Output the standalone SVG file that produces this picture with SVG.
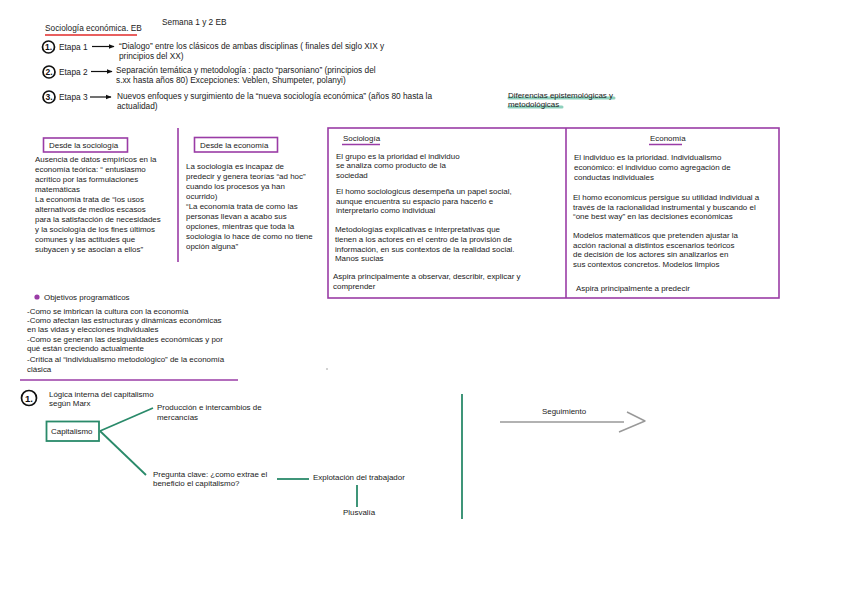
<svg xmlns="http://www.w3.org/2000/svg" width="848" height="599" viewBox="0 0 848 599">
<defs>
<style>
text{font-family:"Liberation Sans","DejaVu Sans",sans-serif;font-size:7.95px;fill:#1a1a1a}
.h{font-size:8.3px}
.num{font-size:8.5px;font-weight:bold;fill:#111}
.circ{fill:#fff;stroke:#111;stroke-width:1.7}
.pbox{fill:#fff;stroke:#9a3ca6;stroke-width:1.6}
.pl{stroke:#9a3ca6;stroke-width:1.6;fill:none}
.tl{stroke:#2a8a6a;stroke-width:1.8;fill:none}
.arr{stroke:#111;stroke-width:1.2;fill:none;marker-end:url(#ah)}
</style>
<marker id="ah" viewBox="0 0 10 10" refX="9" refY="5" markerWidth="5" markerHeight="5" orient="auto">
<path d="M0,1 L10,5 L0,9 z" fill="#111"/>
</marker>
</defs>

<g id="header">
<text x="45" y="31" class="h">Sociología económica. EB</text>
<line x1="45" y1="35" x2="137" y2="35" stroke="#e02a2a" stroke-width="1.6"/>
<text x="162" y="25" class="h">Semana 1 y 2 EB</text>
</g>

<g id="etapa1">
<circle cx="48.5" cy="47" r="6" class="circ"/>
<text x="45" y="50.2" class="num">1.</text>
<text x="59" y="50" class="h">Etapa 1</text>
<line x1="92" y1="46.5" x2="114" y2="46.5" class="arr"/>
<text x="119" y="49" class="h">“Dialogo” entre los clásicos de ambas disciplinas ( finales del siglo XIX y</text>
<text x="119" y="59" class="h">principios del XX)</text>
</g>
<g id="etapa2">
<circle cx="49" cy="72" r="6" class="circ"/>
<text x="45.5" y="75.2" class="num">2.</text>
<text x="59" y="75" class="h">Etapa 2</text>
<line x1="91" y1="71.5" x2="112" y2="71.5" class="arr"/>
<text x="116" y="73" class="h">Separación temática y metodología : pacto “parsoniano” (principios del</text>
<text x="116" y="83" class="h">s.xx hasta años 80) Excepciones: Veblen, Shumpeter, polanyi)</text>
</g>
<g id="etapa3">
<circle cx="49" cy="97" r="6" class="circ"/>
<text x="45.5" y="100.2" class="num">3.</text>
<text x="59" y="100" class="h">Etapa 3</text>
<line x1="90" y1="97" x2="111" y2="97" class="arr"/>
<text x="117" y="99" class="h">Nuevos enfoques y surgimiento de la “nueva sociología económica” (años 80 hasta la</text>
<text x="117" y="109" class="h">actualidad)</text>
</g>

<g id="diferencias">
<line x1="509" y1="98" x2="614" y2="98" stroke="#7cc9b2" stroke-width="3" stroke-linecap="round" opacity="0.85"/>
<line x1="509" y1="107" x2="562" y2="107" stroke="#7cc9b2" stroke-width="3" stroke-linecap="round" opacity="0.85"/>
<text x="508" y="98">Diferencias epistemológicas y</text>
<text x="508" y="107">metodológicas</text>
</g>

<g id="desde-sociologia">
<rect x="43.5" y="138" width="84" height="14" class="pbox"/>
<text x="49" y="148">Desde la sociología</text>
<text x="35" y="162">Ausencia de datos empíricos en la</text>
<text x="35" y="172">economía teórica: “ entusiasmo</text>
<text x="35" y="182">acrítico por las formulaciones</text>
<text x="35" y="192">matemáticas</text>
<text x="35" y="202">La economía trata de “los usos</text>
<text x="35" y="212">alternativos de medios escasos</text>
<text x="35" y="222">para la satisfacción de necesidades</text>
<text x="35" y="232">y la sociología de los fines últimos</text>
<text x="35" y="242">comunes y las actitudes que</text>
<text x="35" y="252">subyacen y se asocian a ellos”</text>
</g>

<g id="desde-economia">
<line x1="178" y1="128" x2="178" y2="262" class="pl"/>
<rect x="194.5" y="137.5" width="83" height="14.5" class="pbox"/>
<text x="200" y="148">Desde la economía</text>
<text x="186" y="169">La sociología es incapaz de</text>
<text x="186" y="179">predecir y genera teorías “ad hoc”</text>
<text x="186" y="189">cuando los procesos ya han</text>
<text x="186" y="199">ocurrido)</text>
<text x="186" y="209">“La economía trata de como las</text>
<text x="186" y="219">personas llevan a acabo sus</text>
<text x="186" y="229">opciones, mientras que toda la</text>
<text x="186" y="239">sociología lo hace de como no tiene</text>
<text x="186" y="249">opción alguna”</text>
</g>

<g id="tabla">
<rect x="328" y="128" width="451" height="170" class="pl"/>
<line x1="566" y1="128" x2="566" y2="298" class="pl"/>
</g>

<g id="col-sociologia">
<text x="343" y="141">Sociología</text>
<line x1="342" y1="144.5" x2="380" y2="144.5" class="pl"/>
<text x="336" y="159">El grupo es la prioridad el individuo</text>
<text x="336" y="168">se analiza como producto de la</text>
<text x="336" y="178">sociedad</text>
<text x="336" y="194">El homo sociologicus desempeña un papel social,</text>
<text x="336" y="204">aunque encuentra su espacio para hacerlo e</text>
<text x="336" y="213">interpretarlo como individual</text>
<text x="335" y="232">Metodologías explicativas e interpretativas que</text>
<text x="335" y="242">tienen a los actores en el centro de la provisión de</text>
<text x="335" y="252">información, en sus contextos de la realidad social.</text>
<text x="335" y="261">Manos sucias</text>
<text x="333" y="279">Aspira principalmente a observar, describir, explicar y</text>
<text x="333" y="289">comprender</text>
</g>

<g id="col-economia">
<text x="650" y="141">Economía</text>
<line x1="649" y1="144.5" x2="682" y2="144.5" class="pl"/>
<text x="574" y="160">El individuo es la prioridad. Individualismo</text>
<text x="574" y="170">económico: el individuo como agregación de</text>
<text x="574" y="180">conductas individuales</text>
<text x="573" y="200">El homo economicus persigue su utilidad individual a</text>
<text x="573" y="210">través de la racionalidad instrumental y buscando el</text>
<text x="573" y="219">“one best way” en las decisiones económicas</text>
<text x="573" y="238">Modelos matemáticos que pretenden ajustar la</text>
<text x="573" y="248">acción racional a distintos escenarios teóricos</text>
<text x="573" y="257">de decisión de los actores sin analizarlos en</text>
<text x="573" y="267">sus contextos concretos. Modelos limpios</text>
<text x="576" y="291">Aspira principalmente a predecir</text>
</g>

<g id="objetivos">
<circle cx="37" cy="297" r="2.6" fill="#9a3ca6"/>
<text x="44" y="300">Objetivos programáticos</text>
<text x="27" y="314">-Como se imbrican la cultura con la economía</text>
<text x="27" y="323">-Como afectan las estructuras y dinámicas económicas</text>
<text x="27" y="332">en las vidas y elecciones individuales</text>
<text x="27" y="342">-Como se generan las desigualdades económicas y por</text>
<text x="27" y="351">qué están creciendo actualmente</text>
<text x="27" y="362">-Crítica al “individualismo metodológico” de la economía</text>
<text x="27" y="372">clásica</text>
<line x1="20" y1="380" x2="238" y2="380" class="pl"/>
<circle cx="327" cy="369" r="0.8" fill="#999"/>
</g>

<g id="marx">
<circle cx="29" cy="398" r="7.5" class="circ" stroke-width="1.9"/>
<text x="25" y="401.8" class="num" style="font-size:9.5px">1.</text>
<text x="49" y="397">Lógica interna del capitalismo</text>
<text x="49" y="406">según Marx</text>
</g>

<g id="capitalismo">
<rect x="46.5" y="421.5" width="52.5" height="19.5" fill="#fff" stroke="#2a8a6a" stroke-width="1.8"/>
<text x="51" y="434">Capitalismo</text>
</g>

<g id="produccion">
<text x="157" y="410">Producción e intercambios de</text>
<text x="157" y="420">mercancías</text>
</g>

<g id="pregunta">
<text x="153" y="477">Pregunta clave: ¿como extrae el</text>
<text x="153" y="486">beneficio el capitalismo?</text>
</g>

<g id="explotacion">
<text x="313" y="480">Explotación del trabajador</text>
</g>

<g id="plusvalia">
<text x="343" y="515">Plusvalía</text>
</g>

<g id="seguimiento">
<text x="542" y="414">Seguimiento</text>
</g>

<g id="connectors">
<line x1="100" y1="431" x2="153" y2="408" class="tl"/>
<line x1="100" y1="431" x2="146" y2="475" class="tl"/>
<line x1="277" y1="479" x2="309" y2="479" class="tl"/>
<line x1="357" y1="485" x2="357" y2="507" class="tl"/>
<line x1="462" y1="394" x2="462" y2="519" class="tl"/>
<line x1="500" y1="422" x2="624" y2="422" stroke="#999" stroke-width="1.4"/>
<polyline points="627,412 645,421 619,432" fill="none" stroke="#999" stroke-width="1.4" stroke-linejoin="round"/>
</g>
</svg>
